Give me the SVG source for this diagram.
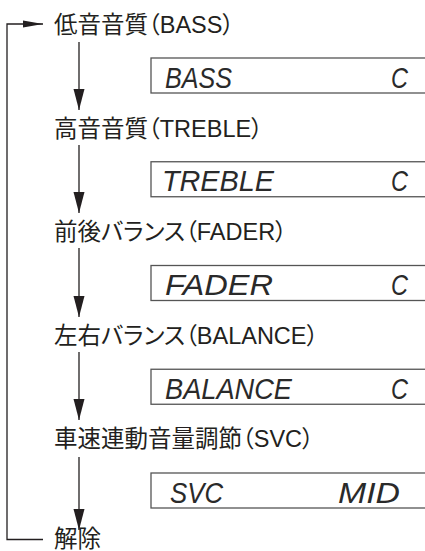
<svg xmlns="http://www.w3.org/2000/svg" width="425" height="551" viewBox="0 0 425 551">
<style>
.lbl{font-family:"Liberation Sans","Noto Sans CJK JP",sans-serif;font-size:23.5px;fill:#231f20;font-feature-settings:"palt"}
.lcd{font-family:"Liberation Sans",Arial,sans-serif;font-style:italic;font-size:30px;fill:#2a2a2a}
.box{fill:none;stroke:#555;stroke-width:1.3}
.ln{fill:none;stroke:#231f20;stroke-width:1.3}
</style>
<defs>
<marker id="av" viewBox="-21 -6 22 12" markerWidth="22" markerHeight="12" refX="0" refY="0" orient="auto" markerUnits="userSpaceOnUse">
<path d="M0,0 L-21,-5.5 L-21,5.5 Z" fill="#231f20"/>
</marker>
<marker id="ah" viewBox="-21 -4 22 8" markerWidth="22" markerHeight="8" refX="0" refY="0" orient="auto" markerUnits="userSpaceOnUse">
<path d="M0,0 L-20,-3.6 L-20,3.6 Z" fill="#231f20"/>
</marker>
</defs>
<g id="connectors">
<path class="ln" d="M43,539.5 H7 V24 H43" marker-end="url(#ah)"/>
<line class="ln" x1="79" y1="42" x2="79" y2="110" marker-end="url(#av)"/>
<line class="ln" x1="79" y1="145" x2="79" y2="213" marker-end="url(#av)"/>
<line class="ln" x1="79" y1="248" x2="79" y2="317" marker-end="url(#av)"/>
<line class="ln" x1="79" y1="352" x2="79" y2="420" marker-end="url(#av)"/>
<line class="ln" x1="79" y1="457" x2="79" y2="530" marker-end="url(#av)"/>
</g>
<g id="n-bass"><text class="lbl" x="54" y="33">低音音質（BASS）</text></g>
<g id="d-bass"><rect class="box" x="151" y="58" width="300" height="35"/>
<text class="lcd" x="165" y="87.5" textLength="67" lengthAdjust="spacingAndGlyphs">BASS</text>
<text class="lcd" x="391" y="87.5" textLength="17" lengthAdjust="spacingAndGlyphs">C</text></g>
<g id="n-treble"><text class="lbl" x="54" y="136.5">高音音質（TREBLE）</text></g>
<g id="d-treble"><rect class="box" x="151" y="161.75" width="300" height="35"/>
<text class="lcd" x="162" y="191.25" textLength="112" lengthAdjust="spacingAndGlyphs">TREBLE</text>
<text class="lcd" x="391" y="191.25" textLength="17" lengthAdjust="spacingAndGlyphs">C</text></g>
<g id="n-fader"><text class="lbl" x="54" y="240">前後バランス（FADER）</text></g>
<g id="d-fader"><rect class="box" x="151" y="265.5" width="300" height="35"/>
<text class="lcd" x="165" y="295" textLength="108" lengthAdjust="spacingAndGlyphs">FADER</text>
<text class="lcd" x="391" y="295" textLength="17" lengthAdjust="spacingAndGlyphs">C</text></g>
<g id="n-balance"><text class="lbl" x="54" y="343.5">左右バランス（BALANCE）</text></g>
<g id="d-balance"><rect class="box" x="151" y="369.25" width="300" height="35"/>
<text class="lcd" x="165" y="398.75" textLength="127" lengthAdjust="spacingAndGlyphs">BALANCE</text>
<text class="lcd" x="391" y="398.75" textLength="17" lengthAdjust="spacingAndGlyphs">C</text></g>
<g id="n-svc"><text class="lbl" x="54" y="447">車速連動音量調節（SVC）</text></g>
<g id="d-svc"><rect class="box" x="151" y="473" width="300" height="35"/>
<text class="lcd" x="170" y="502.5" textLength="53" lengthAdjust="spacingAndGlyphs">SVC</text>
<text class="lcd" x="338" y="502.5" textLength="62" lengthAdjust="spacingAndGlyphs">MID</text></g>
<g id="n-cancel"><text class="lbl" x="54" y="546.5">解除</text></g>
</svg>
